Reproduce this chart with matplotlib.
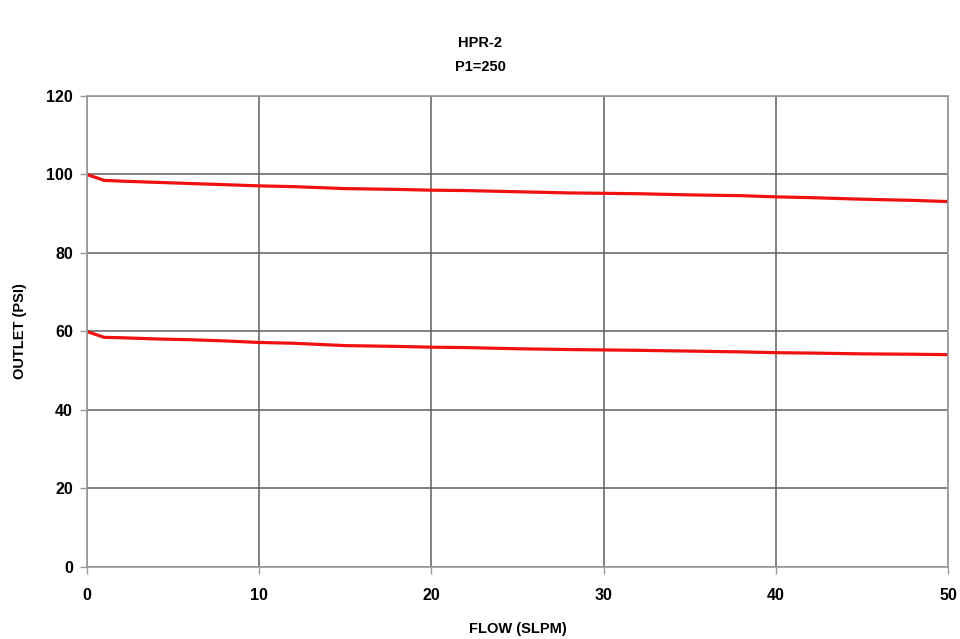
import matplotlib.pyplot as plt

# flow (SLPM) vs outlet pressure (PSI)
flow = [0, 1, 2, 4, 6, 8, 10, 12, 15, 18, 20, 22, 25, 28, 30, 32, 35, 38, 40, 42, 45, 48, 50]
outlet_100 = [100, 98.5, 98.3, 98.0, 97.7, 97.4, 97.1, 96.9, 96.4, 96.2, 96.0, 95.9,
              95.6, 95.3, 95.2, 95.1, 94.8, 94.6, 94.3, 94.1, 93.7, 93.4, 93.1]
outlet_60 = [60, 58.5, 58.4, 58.1, 57.9, 57.6, 57.2, 57.0, 56.4, 56.2, 56.0, 55.9,
             55.6, 55.4, 55.3, 55.2, 55.0, 54.8, 54.6, 54.5, 54.3, 54.2, 54.1]

x_ticks = [0, 10, 20, 30, 40, 50]
y_ticks = [0, 20, 40, 60, 80, 100, 120]

plt.rcParams['font.family'] = ['Liberation Sans', 'DejaVu Sans']

fig = plt.figure(figsize=(9.6, 6.39), dpi=100)
ax = fig.add_axes([0.0906, 0.1127, 0.8969, 0.7371])

ax.plot(flow, outlet_100, color='#f01010', lw=2.3, solid_joinstyle='round')
ax.plot(flow, outlet_60, color='#f01010', lw=2.3, solid_joinstyle='round')

ax.set_xlim(0, 50)
ax.set_ylim(0, 120)
ax.set_xticks(x_ticks)
ax.set_yticks(y_ticks)
ax.grid(True, color='#5e5e5e', lw=1.1)
ax.set_axisbelow(True)
for s in ax.spines.values():
    s.set_color('#9a9a9a')
    s.set_linewidth(1.2)
ax.tick_params(direction='out', length=5, width=1, color='#9a9a9a',
               labelsize=11.5, pad=5)
ax.tick_params(axis='x', pad=10)
for lab in ax.get_xticklabels() + ax.get_yticklabels():
    lab.set_fontweight('bold')

ax.set_xlabel('FLOW (SLPM)', fontsize=10.5, fontweight='bold', labelpad=14)
ax.set_ylabel('OUTLET (PSI)', fontsize=10.5, fontweight='bold', labelpad=14)
fig.text(0.5, 0.914, 'HPR-2\nP1=250', ha='center', va='center',
         fontsize=10.5, fontweight='bold', linespacing=1.9)

fig.savefig('out.png', dpi=100)
